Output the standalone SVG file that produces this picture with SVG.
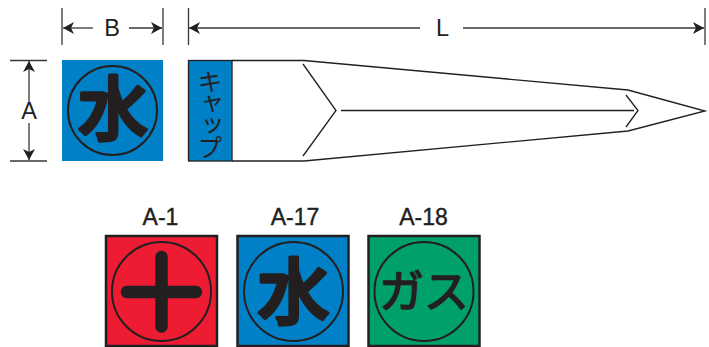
<svg xmlns="http://www.w3.org/2000/svg" width="709" height="347" viewBox="0 0 709 347">
<style>
.dim{stroke:#3a3738;stroke-width:1.3;fill:none}
.ol{stroke:#231f20;stroke-width:1.3;fill:none}
.lb{font-family:"Liberation Sans",Arial,sans-serif;fill:#231f20;text-anchor:middle}
.jp{font-family:"Noto Sans CJK JP",sans-serif;fill:#231f20;text-anchor:middle}
.big{font-size:23.500px}
.tag{font-size:23px;stroke:#231f20;stroke-width:.4}
.ring{fill:none;stroke:#231f20;stroke-width:2}
.sq{stroke:#231f20;stroke-width:2.500}
.water{font-weight:500;stroke:#231f20;stroke-linejoin:round}
</style>
<defs>
<marker id="ah" markerUnits="userSpaceOnUse" viewBox="0 0 12 12" refX="11" refY="6" markerWidth="12" markerHeight="12" orient="auto-start-reverse"><path d="M0 0L11 6L0 12L3 6Z" fill="#231f20"/></marker>
</defs>
<g id="connectors">
<path class="dim" d="M62 8V45M163 8V45M188.500 8V45M705 8V45M10 60.500H47M10 161H47"/>
<path class="dim" d="M93 28H63" marker-end="url(#ah)"/>
<path class="dim" d="M129 28H162" marker-end="url(#ah)"/>
<path class="dim" d="M420 28H189" marker-end="url(#ah)"/>
<path class="dim" d="M463 28H704" marker-end="url(#ah)"/>
<path class="dim" d="M29 103V61" marker-end="url(#ah)"/>
<path class="dim" d="M29 123V160" marker-end="url(#ah)"/>
</g>
<g id="dim-labels">
<text class="lb big" x="112" y="36">B</text>
<text class="lb big" x="442.500" y="36">L</text>
<text class="lb big" x="29" y="119">A</text>
</g>
<g id="node-b">
<rect x="62" y="60" width="101" height="101" fill="#0080c6"/>
<circle class="ring" cx="112.500" cy="110.500" r="44.500"/>
<text class="jp water" x="113" y="135" font-size="70" stroke-width="3.500">水</text>
</g>
<g id="node-tool">
<path class="ol" d="M232 60.500H304L628 90L705 111L628 131L304 161H232"/>
<path class="ol" d="M303 64L336 110.500L303 156M341 110.500H634M626 95L638 110.500L626 127"/>
<rect x="188.500" y="60.500" width="43.500" height="100.500" fill="#0080c6" stroke="#231f20" stroke-width="1.300"/>
<text class="jp" x="210" y="112.500" font-size="25" font-weight="400" letter-spacing="-3" style="writing-mode:vertical-rl;text-orientation:upright">キャップ</text>
</g>
<g id="node-a1">
<text class="lb tag" x="160.500" y="225">A-1</text>
<rect class="sq" x="106" y="236" width="111" height="110" fill="#ee1c33"/>
<circle class="ring" cx="161.500" cy="291.500" r="49.500"/>
<path d="M127 292H196M161.500 257V326.500" stroke="#231f20" stroke-width="12.500" stroke-linecap="round" fill="none"/>
</g>
<g id="node-a17">
<text class="lb tag" x="295" y="225">A-17</text>
<rect class="sq" x="237.500" y="236" width="111" height="110" fill="#0080c6"/>
<circle class="ring" cx="293.500" cy="291.500" r="49.500"/>
<text class="jp water" x="293.500" y="318" font-size="72" stroke-width="3.500">水</text>
</g>
<g id="node-a18">
<text class="lb tag" x="423.500" y="225">A-18</text>
<rect class="sq" x="368.500" y="236" width="111" height="110" fill="#00a06b"/>
<circle class="ring" cx="424" cy="291.500" r="49.500"/>
<text class="jp" x="424" y="307.500" font-size="45" font-weight="400" stroke="#231f20" stroke-width="1.500" stroke-linejoin="round">ガス</text>
</g>
</svg>
